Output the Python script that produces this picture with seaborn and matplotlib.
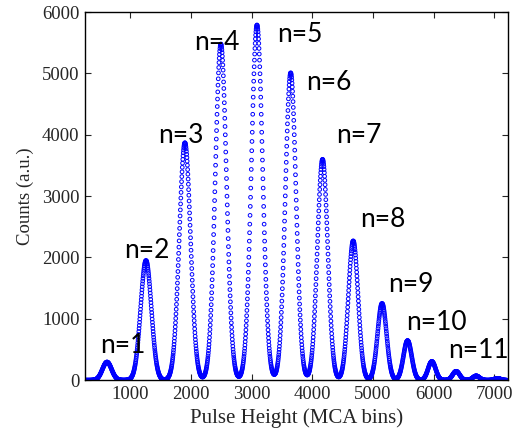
import numpy as np
import pandas as pd
import seaborn as sns
import matplotlib
matplotlib.use("Agg")
import matplotlib.pyplot as plt

# peak parameters (MCA bin centre, height in counts, width)
peak_centres = [620, 1262, 1903, 2495, 3090, 3645, 4170, 4675, 5150, 5570, 5970, 6370, 6700, 7050]
peak_heights = [295, 1950, 3870, 5480, 5790, 5010, 3600, 2270, 1250, 645, 305, 145, 70, 30]
peak_sigmas = [75, 88, 92, 92, 92, 88, 85, 80, 74, 68, 62, 58, 55, 50]

# label text and where it sits (left edge, baseline) in data units
label_text = ["n=%d" % i for i in range(1, 12)]
label_x = [506, 901, 1460, 2052, 3414, 3893, 4386, 4783, 5257, 5553, 6243]
label_y = [440, 1990, 3860, 5390, 5510, 4730, 3870, 2495, 1440, 815, 360]

bins = np.arange(256, 7201, 4)
counts = np.zeros(len(bins))
for c, h, s in zip(peak_centres, peak_heights, peak_sigmas):
    counts += h * np.exp(-0.5 * ((bins - c) / s) ** 2)

df = pd.DataFrame({"bin": bins, "counts": counts})

sns.set_theme(style="ticks")
plt.rcParams["font.family"] = ["Liberation Serif", "DejaVu Serif"]
plt.rcParams["xtick.direction"] = "in"
plt.rcParams["ytick.direction"] = "in"

fig = plt.figure(figsize=(5.16, 4.33), dpi=100)
ax = fig.add_axes([0.165, 0.122, 0.819, 0.850])

sns.scatterplot(data=df, x="bin", y="counts", ax=ax, marker="o",
                facecolors="none", edgecolor="#0000ff", s=7, linewidth=0.7)

for t, x, y in zip(label_text, label_x, label_y):
    ax.text(x, y, t, fontsize=19, family=["Lato", "DejaVu Sans"],
            ha="left", va="baseline", color="black")

ax.set_xlim(260, 7220)
ax.set_ylim(0, 6000)
ax.set_xticks(range(1000, 7001, 1000))
ax.set_yticks(range(0, 6001, 1000))
ax.tick_params(top=True, right=True, length=4, width=0.8, labelsize=13.5, pad=4)
for sp in ax.spines.values():
    sp.set_linewidth(1.0)
    sp.set_color("black")

ax.set_xlabel("Pulse Height (MCA bins)", fontsize=15, labelpad=4)
ax.set_ylabel("Counts (a.u.)", fontsize=13.5, labelpad=6)

fig.savefig("out.png", dpi=100)
